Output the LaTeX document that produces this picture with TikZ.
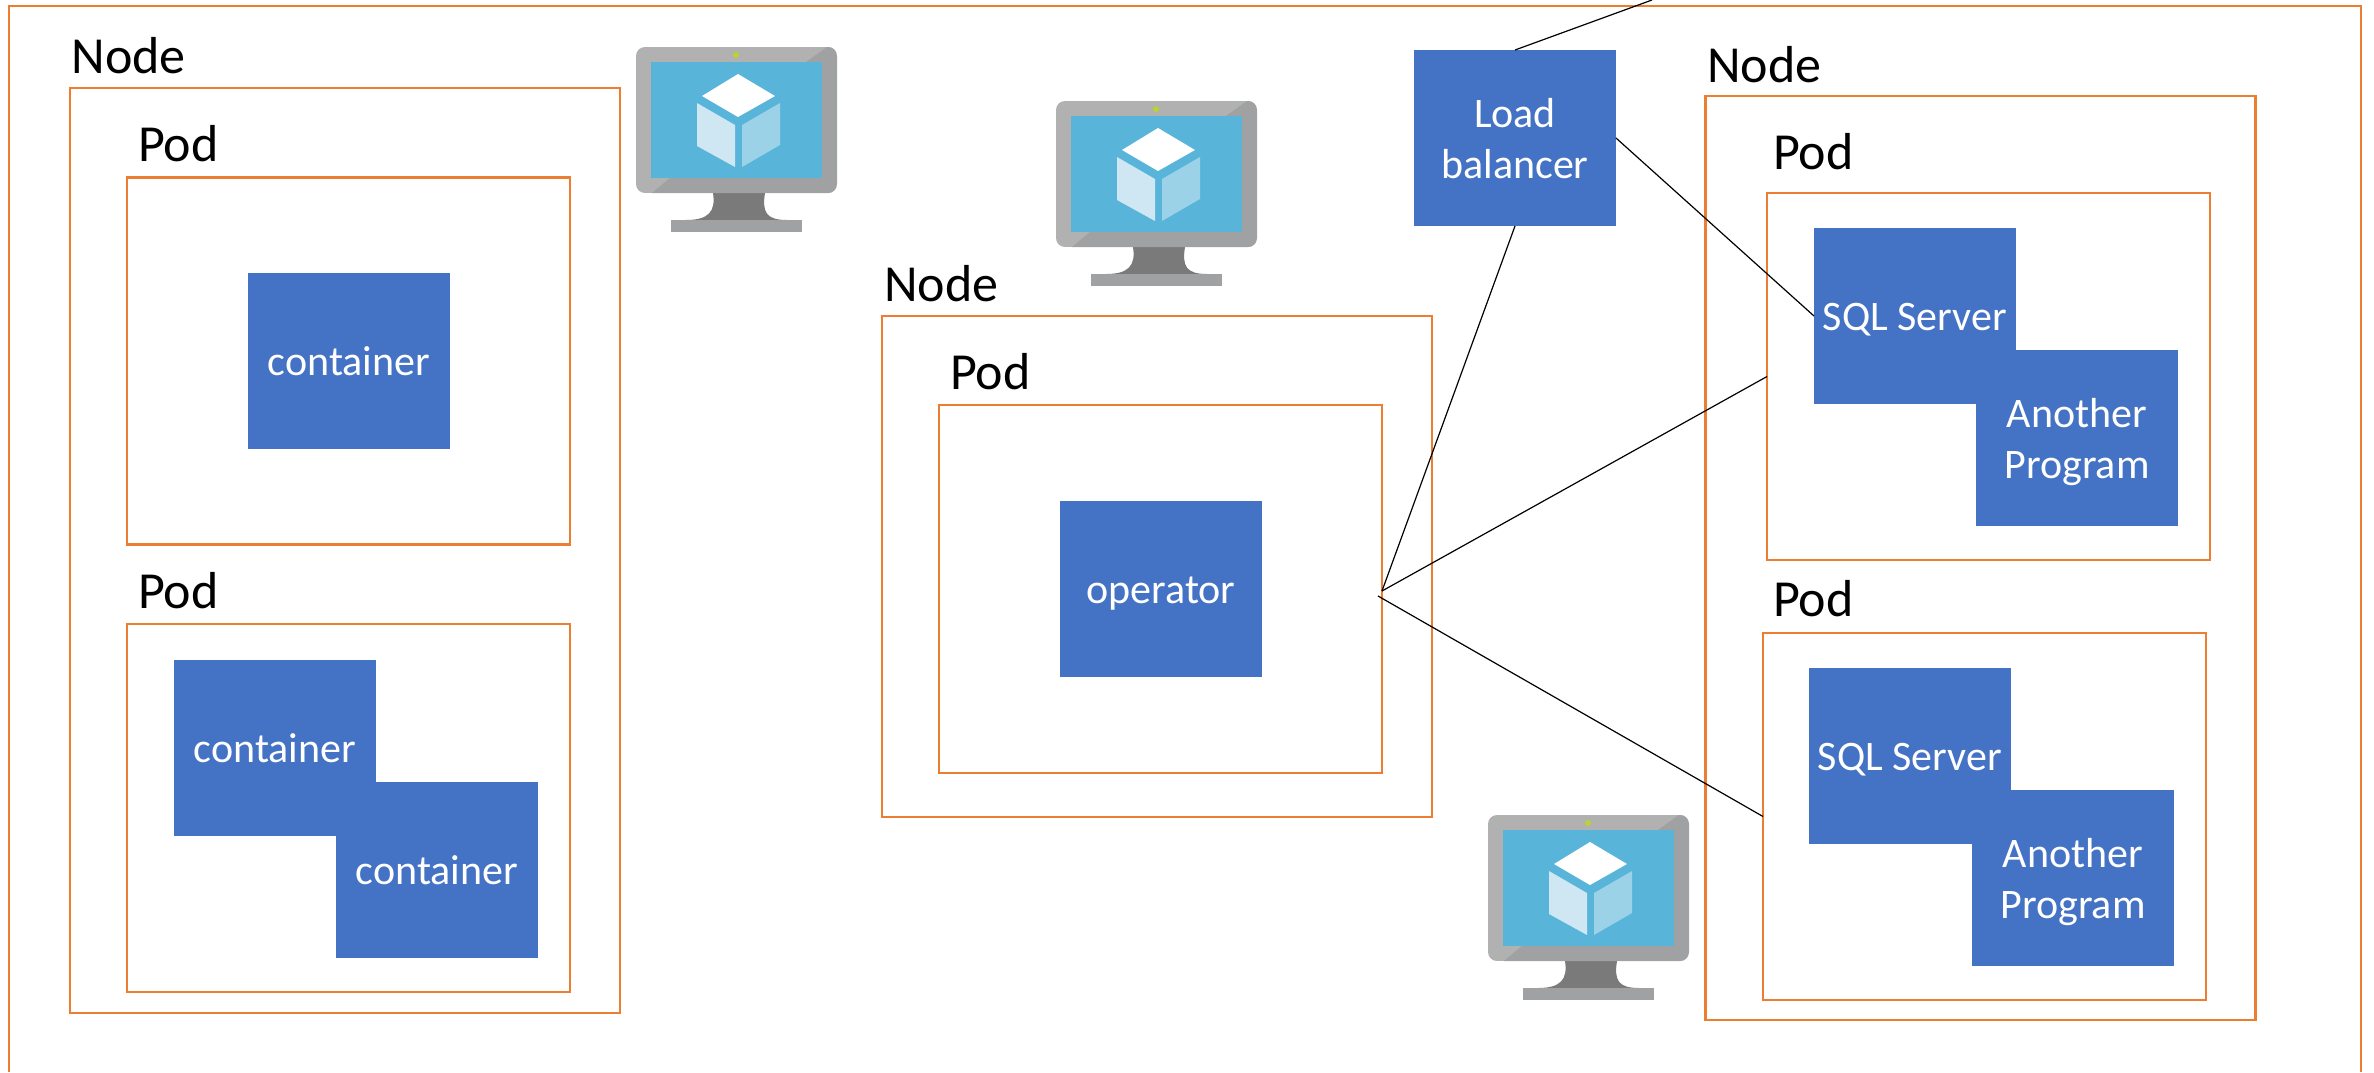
\documentclass[tikz,border=0pt]{standalone}
\usepackage{fontspec}
\setmainfont{Carlito}
\definecolor{frameorange}{HTML}{ED7D31}
\definecolor{boxblue}{HTML}{4472C4}
\definecolor{bezellight}{HTML}{B0B1B0}
\definecolor{bezeldark}{HTML}{A0A1A2}
\definecolor{standdark}{HTML}{7A7A7A}
\definecolor{screenblue}{HTML}{59B4D9}
\definecolor{cubeleft}{HTML}{CFE7F3}
\definecolor{cuberight}{HTML}{9CD2E8}
\definecolor{leddot}{HTML}{B8D432}
\tikzset{
  sz/.style 2 args={minimum width=#1*0.5pt,minimum height=#2*0.5pt},
  frame/.style={draw=frameorange,line width=1.4pt,rectangle,inner sep=0pt,outer sep=0pt},
  outerframe/.style={draw=frameorange,line width=1.4pt},
  bluebox/.style={fill=boxblue,rectangle,inner sep=0pt,outer sep=0pt,text=white,align=center,
    font=\fontsize{21}{25.5}\selectfont,sz={202}{176}},
  oneline/.style={text height=14.3pt,text depth=0pt},
  heading/.style={anchor=base west,inner sep=0pt,outer sep=0pt,text=black,
    font=\fontsize{26}{31}\selectfont},
  wire/.style={draw=black,line width=0.6pt},
}
\newcommand{\monitoricon}[2]{%
  \begin{scope}[shift={(#1,#2)}]
    \fill[standdark] (77,146) .. controls (80,165) and (72,173) .. (50,173) -- (151,173)
      .. controls (130,173) and (126,165) .. (129,146) -- cycle;
    \fill[bezeldark] (35,173) rectangle (166,185);
    \begin{scope}
      \clip[rounded corners=4.5pt] (0,0) rectangle (201,146);
      \fill[bezellight] (0,0) rectangle (201,146);
      \fill[bezeldark] (191,0) -- (201,0) -- (201,146) -- (16,146) -- (34,131) -- (170,15) -- cycle;
    \end{scope}
    \fill[screenblue] (15,15) rectangle (186,131);
    \fill[leddot] (100,8) circle (1.5pt);
    \fill[white] (102,27) -- (139,49) -- (102,70) -- (66,49) -- cycle;
    \fill[cubeleft] (61,56) -- (99,78) -- (99,120) -- (61,99) -- cycle;
    \fill[cuberight] (106,78) -- (144,56) -- (144,98) -- (106,120) -- cycle;
  \end{scope}}
\begin{document}
\begin{tikzpicture}[x=0.5pt,y=-0.5pt]
\useasboundingbox (0,0) rectangle (2374,1072);
% outer frame runs off the bottom of the page
\coordinate (fbl) at (9,1072);
\coordinate (ftl) at (9,6);
\coordinate (ftr) at (2361,6);
\coordinate (fbr) at (2361,1072);
\draw[outerframe] (fbl) -- (ftl) -- (ftr) -- (fbr);
% monitors
\monitoricon{636}{47}
\monitoricon{1056}{101}
\monitoricon{1488}{815}
% frames
\node[frame,sz={550}{925}] (nodeA) at (345,550.5) {};
\node[frame,sz={443}{367.5}] (podA) at (348.5,361) {};
\node[frame,sz={443}{368}] (podB) at (348.5,808) {};
\node[frame,sz={550}{501}] (nodeB) at (1157,566.5) {};
\node[frame,sz={443}{368}] (podC) at (1160.5,589) {};
\node[frame,sz={550}{924}] (nodeC) at (1980.5,558) {};
\node[frame,sz={443}{367}] (podD) at (1988.5,376.5) {};
\node[frame,sz={443}{367}] (podE) at (1984.5,816.5) {};
% headings
\node[heading] (tNodeA) at (71.5,73) {Node};
\node[heading] (tPodA) at (138,161) {Pod};
\node[heading] (tPodB) at (138,608) {Pod};
\node[heading] (tNodeB) at (884,301) {Node};
\node[heading] (tPodC) at (950,389) {Pod};
\node[heading] (tNodeC) at (1707,82) {Node};
\node[heading] (tPodD) at (1773,169) {Pod};
\node[heading] (tPodE) at (1773,616) {Pod};
% blue boxes
\node[bluebox,oneline] (contA) at (349,361) {container};
\node[bluebox,oneline] (contB) at (275,748) {container};
\node[bluebox,oneline] (contC) at (437,870) {container};
\node[bluebox,oneline] (oper) at (1161,589) {operator};
\node[bluebox] (lb) at (1515,138) {\rule{0pt}{15.6pt}Load\\balancer};
\node[bluebox,oneline] (sqlA) at (1915,316) {SQL Server};
\node[bluebox] (progA) at (2077,438) {Another\\\smash{Program}};
\node[bluebox,oneline] (sqlB) at (1910,756) {SQL Server};
\node[bluebox] (progB) at (2073,878) {Another\\\smash{Program}};
% connectors
\coordinate (up) at (1652,0);
\coordinate (joinA) at (1382,591);
\coordinate (joinB) at (1378,596);
\draw[wire] (lb.north) -- (up);
\draw[wire] (lb.east) -- (sqlA.west);
\draw[wire] (lb.south) -- (joinA);
\draw[wire] (joinA) -- (podD.west);
\draw[wire] (joinB) -- (podE.west);
\end{tikzpicture}
\end{document}
